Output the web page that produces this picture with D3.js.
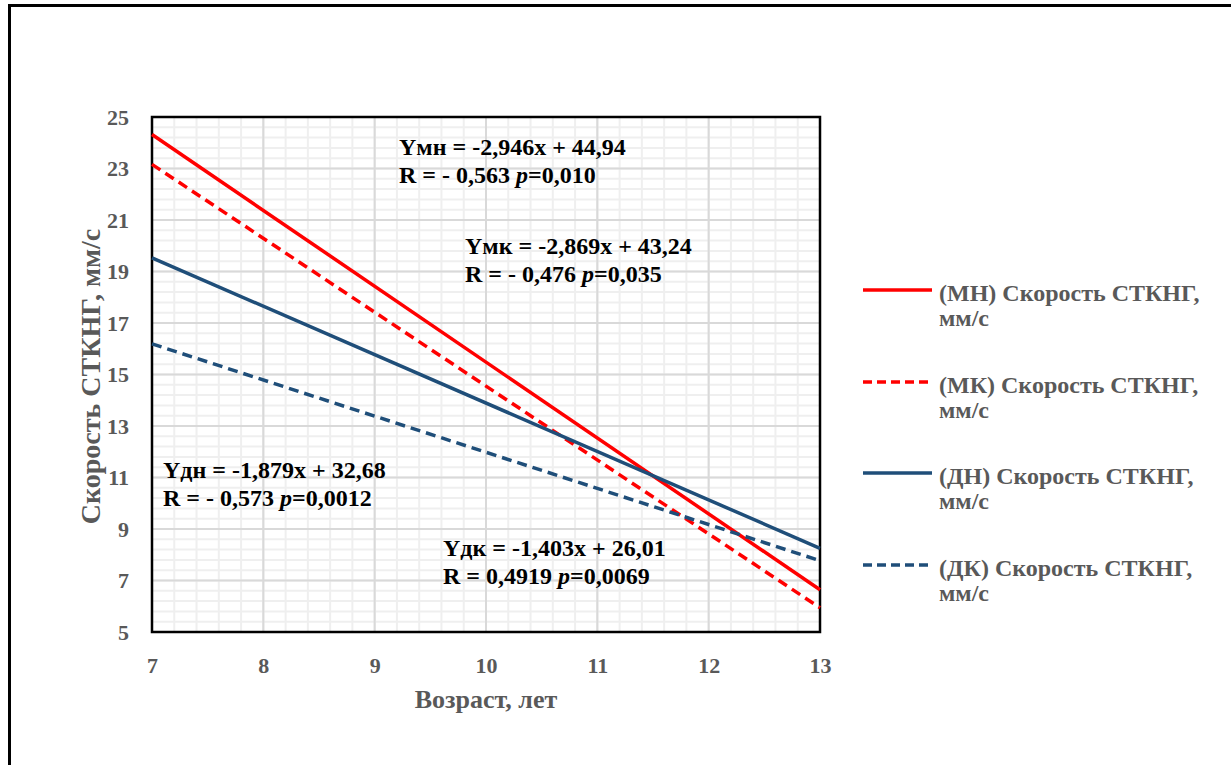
<!DOCTYPE html>
<html>
<head>
<meta charset="utf-8">
<script src="https://cdn.jsdelivr.net/npm/d3@7"></script>
<style>
  body { margin: 0; background: #fff; }
</style>
</head>
<body>
<div id="chart"></div>
<script>
// trend line endpoints (age 7 and age 13)
var ages = [7, 13];
var mnValues = [24.32, 6.64];
var mkValues = [23.16, 5.94];
var dnValues = [19.53, 8.25];
var dkValues = [16.19, 7.77];

var seriesNames = ["(МН) Скорость СТКНГ,", "(МК) Скорость СТКНГ,", "(ДН) Скорость СТКНГ,", "(ДК) Скорость СТКНГ,"];
var xTicks = [7, 8, 9, 10, 11, 12, 13];
var yTicks = [5, 7, 9, 11, 13, 15, 17, 19, 21, 23, 25];

var equations = [
    ["Yмн = -2,946x + 44,94", "R = - 0,563 ", "0,010"],
    ["Yмк = -2,869x + 43,24", "R = - 0,476 ", "0,035"],
    ["Yдн = -1,879x + 32,68", "R = - 0,573 ", "0,0012"],
    ["Yдк = -1,403x + 26,01", "R = 0,4919 ", "0,0069"]
];
var eqPos = [[399, 155], [465, 254], [163, 478], [443, 556]];

var width = 1231,
    height = 765,
    red = "#ff0000",
    blue = "#1f4e79",
    grey = "#595959",
    serif = "'Liberation Serif', 'Times New Roman', serif";

var svg = d3.select("#chart").append("svg")
    .attr("width", width)
    .attr("height", height)
    .attr("font-family", serif)
    .attr("font-weight", "bold");

// outer frame, open at right and bottom
svg.append("path")
    .attr("d", "M9.5,770 L9.5,5.5 L1240,5.5")
    .attr("fill", "none")
    .attr("stroke", "#000")
    .attr("stroke-width", 3);

var x = d3.scaleLinear().domain([7, 13]).range([152, 820]);
var y = d3.scaleLinear().domain([5, 25]).range([632, 117]);

var g = svg.append("g");

// minor grid
g.append("g").selectAll("line")
    .data(d3.range(7, 13.001, 0.2))
    .enter().append("line")
    .attr("x1", function(d) { return x(d); })
    .attr("x2", function(d) { return x(d); })
    .attr("y1", y(5)).attr("y2", y(25))
    .attr("stroke", "#efefef").attr("stroke-width", 2);

g.append("g").selectAll("line")
    .data(d3.range(5, 25.001, 0.4))
    .enter().append("line")
    .attr("y1", function(d) { return y(d); })
    .attr("y2", function(d) { return y(d); })
    .attr("x1", x(7)).attr("x2", x(13))
    .attr("stroke", "#efefef").attr("stroke-width", 2);

// major grid
g.append("g").selectAll("line")
    .data(xTicks)
    .enter().append("line")
    .attr("x1", function(d) { return x(d); })
    .attr("x2", function(d) { return x(d); })
    .attr("y1", y(5)).attr("y2", y(25))
    .attr("stroke", "#d9d9d9").attr("stroke-width", 2);

g.append("g").selectAll("line")
    .data(yTicks)
    .enter().append("line")
    .attr("y1", function(d) { return y(d); })
    .attr("y2", function(d) { return y(d); })
    .attr("x1", x(7)).attr("x2", x(13))
    .attr("stroke", "#d9d9d9").attr("stroke-width", 2);

// plot border
g.append("rect")
    .attr("x", x(7)).attr("y", y(25))
    .attr("width", x(13) - x(7)).attr("height", y(5) - y(25))
    .attr("fill", "none").attr("stroke", "#000").attr("stroke-width", 2.5);

// axes (labels only)
var xAxis = svg.append("g")
    .attr("transform", "translate(0," + (y(5) + 22) + ")")
    .call(d3.axisBottom(x).tickValues(xTicks).tickSize(0).tickFormat(d3.format("d")))
    .attr("font-family", serif).attr("font-size", 22);
xAxis.select(".domain").remove();
xAxis.selectAll("text").attr("fill", grey).attr("dy", "0.71em");

var yAxis = svg.append("g")
    .attr("transform", "translate(" + (x(7) - 20) + ",0)")
    .call(d3.axisLeft(y).tickValues(yTicks).tickSize(0).tickFormat(d3.format("d")))
    .attr("font-family", serif).attr("font-size", 22);
yAxis.select(".domain").remove();
yAxis.selectAll("text").attr("fill", grey);

// axis titles
svg.append("text")
    .attr("x", (x(7) + x(13)) / 2)
    .attr("y", 708)
    .attr("text-anchor", "middle")
    .attr("fill", grey)
    .attr("font-size", 26)
    .text("Возраст, лет");

svg.append("text")
    .attr("transform", "translate(100," + ((y(5) + y(25)) / 2 + 2) + ") rotate(-90)")
    .attr("text-anchor", "middle")
    .attr("fill", grey)
    .attr("font-size", 28)
    .text("Скорость СТКНГ, мм/с");

// trend lines
var series = [
    { values: mnValues, color: red, dash: null },
    { values: mkValues, color: red, dash: "10,6" },
    { values: dnValues, color: blue, dash: null },
    { values: dkValues, color: blue, dash: "10,6" }
];

var line = d3.line()
    .x(function(d, i) { return x(ages[i]); })
    .y(function(d) { return y(d); });

g.selectAll(".trend")
    .data(series)
    .enter().append("path")
    .attr("class", "trend")
    .attr("d", function(d) { return line(d.values); })
    .attr("fill", "none")
    .attr("stroke", function(d) { return d.color; })
    .attr("stroke-width", 3.5)
    .attr("stroke-dasharray", function(d) { return d.dash; });

// equation labels
equations.forEach(function(e, i) {
    svg.append("text")
        .attr("x", eqPos[i][0])
        .attr("y", eqPos[i][1])
        .attr("fill", "#000")
        .attr("font-size", 24)
        .text(e[0]);
    var t2 = svg.append("text")
        .attr("x", eqPos[i][0])
        .attr("y", eqPos[i][1] + 28)
        .attr("fill", "#000")
        .attr("font-size", 24);
    t2.append("tspan").text(e[1]);
    t2.append("tspan").attr("font-style", "italic").text("p");
    t2.append("tspan").text("=" + e[2]);
});

// legend
var legendY = [290, 382, 473, 565];
var lg = svg.append("g");
series.forEach(function(s, i) {
    lg.append("line")
        .attr("x1", 863).attr("x2", 932)
        .attr("y1", legendY[i]).attr("y2", legendY[i])
        .attr("stroke", s.color)
        .attr("stroke-width", 3.5)
        .attr("stroke-dasharray", s.dash ? "9,5" : null);
    lg.append("text")
        .attr("x", 939).attr("y", legendY[i] + 11)
        .attr("fill", grey)
        .attr("font-size", 24)
        .text(seriesNames[i]);
    lg.append("text")
        .attr("x", 939).attr("y", legendY[i] + 36)
        .attr("fill", grey)
        .attr("font-size", 24)
        .text("мм/с");
});
</script>
</body>
</html>
